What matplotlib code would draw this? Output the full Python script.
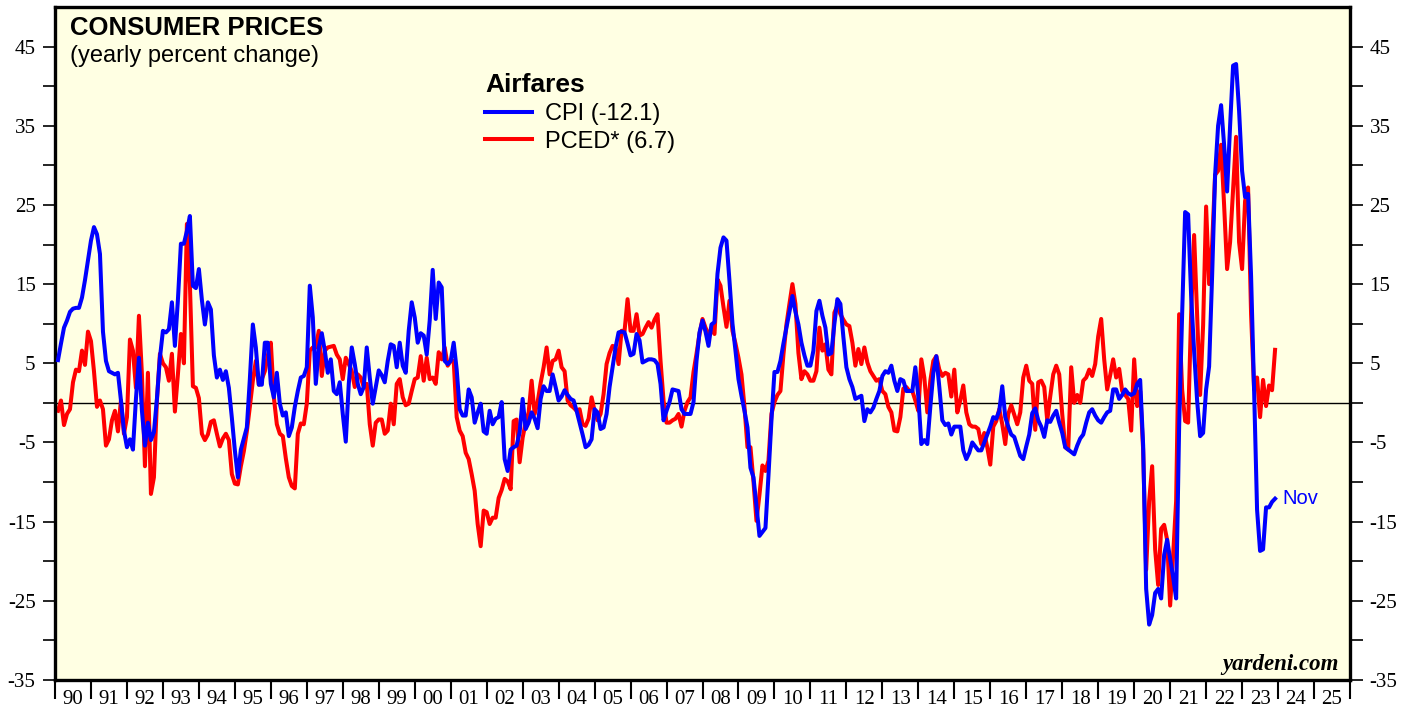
import numpy as np
import matplotlib
matplotlib.use("Agg")
import matplotlib.pyplot as plt
from matplotlib.ticker import FixedLocator, FixedFormatter, NullFormatter


# Airfares, yearly percent change, monthly Jan 1990 .. Nov 2023
# (one row per year)
cpi_airfares = [
    5.4, 7.5, 9.5, 10.4, 11.5, 11.9, 12.0, 12.0, 13.3, 15.5, 18.0, 20.5,          # 1990
    22.2, 21.3, 18.8, 9.0, 5.3, 4.0, 3.8, 3.6, 3.8, 0.3, -3.5, -5.6,               # 1991
    -4.6, -5.9, 0.5, 5.7, -1.0, -5.4, -2.5, -4.7, -3.7, 0.5, 5.7, 9.1,             # 1992
    8.9, 9.3, 12.7, 7.2, 13.0, 20.1, 20.1, 21.7, 23.6, 14.8, 14.5, 16.9,           # 1993
    13.0, 9.9, 12.7, 11.8, 6.0, 3.2, 4.2, 2.9, 4.0, 1.9, -1.9, -6.0,               # 1994
    -9.4, -5.9, -4.5, -3.1, 3.0, 9.9, 7.0, 2.3, 2.3, 7.6, 7.6, 2.4,                # 1995
    0.7, 3.8, -0.1, -1.6, -1.2, -4.2, -3.1, -0.5, 1.5, 3.2, 3.4, 4.5,              # 1996
    14.8, 10.8, 2.4, 7.0, 8.8, 6.6, 3.8, 5.5, 1.5, 1.1, 2.6, -1.4,                 # 1997
    -4.9, 2.4, 7.0, 4.9, 2.4, 1.1, 2.0, 7.0, 3.2, -0.1, 2.0, 4.1,                  # 1998
    3.5, 2.6, 5.3, 7.4, 7.2, 4.5, 7.6, 4.7, 3.8, 9.1, 12.7, 10.8,                  # 1999
    7.6, 8.8, 8.5, 6.1, 10.4, 16.8, 10.6, 15.2, 14.6, 5.3, 4.9, 5.3,               # 2000
    7.6, 4.2, -0.8, -1.6, -1.6, 1.7, 0.7, -2.5, -1.2, -0.1, -3.6, -3.9,            # 2001
    -1.0, -2.7, -2.0, -1.8, 0.1, -7.1, -8.6, -5.9, -5.6, -5.4, -3.7, 0.5,          # 2002
    -3.3, -2.5, -1.2, -2.0, -3.2, 0.5, 2.1, 1.5, 1.5, 3.6, 2.0, 0.3,               # 2003
    0.8, 1.6, 1.0, 0.5, 0.3, -1.0, -2.5, -4.0, -5.6, -5.3, -4.6, -0.8,             # 2004
    -1.2, -3.3, -3.1, -1.4, 2.0, 4.5, 7.0, 8.9, 9.0, 8.9, 7.5, 6.0,                # 2005
    6.2, 8.7, 7.9, 5.1, 5.3, 5.5, 5.5, 5.4, 4.9, 2.4, -2.2, -1.0,                  # 2006
    0.1, 1.7, 1.6, 1.5, -0.8, -1.4, -1.4, -1.4, 0.1, 5.3, 8.9, 10.4,               # 2007
    9.0, 7.2, 9.9, 10.2, 16.3, 19.6, 20.9, 20.5, 15.4, 10.0, 6.6, 3.0,             # 2008
    0.9, -1.0, -3.1, -8.2, -9.4, -13.0, -16.8, -16.3, -15.8, -9.2, -2.2, 3.9,      # 2009
    3.9, 5.3, 7.5, 9.5, 11.5, 13.5, 11.5, 9.9, 7.6, 6.0, 4.7, 4.7,                 # 2010
    6.6, 11.6, 12.9, 11.0, 9.5, 6.1, 6.3, 10.0, 13.1, 12.5, 8.3, 4.5,              # 2011
    3.0, 2.0, 0.5, 0.7, 0.9, -2.3, -0.8, -1.2, -0.6, 0.5, 1.5, 3.4,                # 2012
    4.0, 3.8, 4.7, 2.8, 1.5, 3.0, 2.8, 1.5, 1.5, 1.5, 4.5, 0.8,                    # 2013
    -5.2, -4.7, -5.2, -0.5, 3.8, 5.9, 2.0, -2.2, -2.8, -2.6, -4.0, -3.0,           # 2014
    -3.0, -3.0, -6.0, -7.1, -6.3, -5.0, -5.5, -6.0, -6.0, -5.0, -4.0, -3.0,        # 2015
    -1.8, -2.0, -1.0, 2.1, -1.8, -3.0, -4.0, -4.3, -5.5, -6.7, -7.1, -5.5,         # 2016
    -4.0, -1.3, -0.7, -2.2, -3.0, -4.3, -2.2, -2.4, -1.6, -1.0, -2.5, -3.8,        # 2017
    -5.6, -5.9, -6.2, -6.5, -5.4, -4.5, -4.0, -2.5, -1.2, -0.8, -1.6, -2.2,        # 2018
    -2.5, -1.8, -1.2, -1.0, 1.7, 1.7, 0.5, 1.0, 1.7, 1.2, 1.0, 1.2,                # 2019
    2.4, 2.9, -5.4, -23.5, -28.0, -26.8, -24.0, -23.5, -24.7, -19.2, -17.3, -19.7, # 2020
    -22.0, -24.7, -3.0, 11.2, 24.1, 23.8, 13.6, 6.5, 0.3, -4.2, -3.8, 1.7,         # 2021
    4.6, 16.0, 28.8, 35.0, 37.6, 32.6, 26.7, 35.0, 42.6, 42.8, 36.9, 29.3,         # 2022
    26.0, 26.4, 16.0, 1.7, -13.5, -18.7, -18.5, -13.2, -13.2, -12.5, -12.1,        # 2023
]

pced_airfares = [
    -1.0, 0.3, -2.8, -1.4, -0.8, 2.6, 4.2, 4.0, 6.6, 4.8, 9.0, 7.8,               # 1990
    4.0, -0.5, 0.3, -0.8, -5.4, -4.6, -2.2, -1.0, -3.6, 0.3, -3.9, -1.8,           # 1991
    8.0, 6.6, 1.9, 11.0, 3.6, -8.0, 3.8, -11.5, -9.4, 0.3, 6.2, 5.0,               # 1992
    4.5, 2.8, 6.2, -1.1, 3.6, 8.7, 5.0, 22.6, 15.0, 2.1, 1.9, 0.6,                 # 1993
    -3.9, -4.7, -4.0, -2.4, -2.2, -3.9, -5.5, -4.5, -3.9, -4.7, -9.0, -10.2,       # 1994
    -10.3, -8.0, -6.1, -3.6, -0.5, 2.8, 5.3, 2.3, 3.0, 4.0, 6.0, 7.6,              # 1995
    0.7, -2.7, -3.9, -4.2, -7.0, -9.4, -10.5, -10.8, -3.9, -2.6, -2.7, -0.1,       # 1996
    6.6, 7.0, 7.0, 9.1, 3.4, 6.6, 7.0, 7.1, 7.2, 6.1, 5.5, 3.0,                    # 1997
    5.7, 4.9, 4.0, 2.0, 3.6, 3.2, 2.0, 2.4, -2.7, -5.4, -2.5, -2.1,                # 1998
    -2.1, -3.9, -3.5, -0.1, -2.7, 2.4, 3.0, 0.7, -0.3, -0.1, 1.5, 3.0,             # 1999
    3.2, 5.9, 2.8, 5.7, 3.0, 3.2, 2.4, 6.4, 5.5, 7.0, 4.7, 5.3,                    # 2000
    5.3, -1.8, -3.5, -4.2, -6.3, -7.1, -9.0, -11.1, -15.3, -18.1, -13.6, -13.8,    # 2001
    -15.3, -14.5, -14.5, -12.0, -11.0, -9.6, -9.9, -10.9, -2.3, -2.1, -7.5, -4.4,  # 2002
    -2.5, -1.2, 2.8, -1.4, 0.1, 2.5, 4.5, 7.0, 3.6, 5.3, 5.5, 6.6,                 # 2003
    4.5, 4.0, 0.3, -0.3, -0.6, -1.0, -0.8, -2.7, -2.9, -2.0, 0.7, -1.0,            # 2004
    -2.2, -1.4, 1.1, 4.9, 6.3, 7.2, 7.0, 4.9, 9.1, 9.1, 13.1, 9.1,                 # 2005
    9.1, 11.2, 8.5, 8.7, 9.5, 10.2, 9.5, 10.5, 11.2, 5.3, 0.3, -2.5,               # 2006
    -2.5, -2.2, -2.0, -1.4, -3.0, -1.0, 0.1, 0.7, 3.9, 6.2, 8.7, 10.6,             # 2007
    9.5, 8.7, 9.3, 8.7, 15.6, 14.8, 12.1, 9.6, 12.9, 9.1, 7.5, 5.7,                # 2008
    3.6, -0.5, -5.6, -5.6, -9.9, -14.9, -11.6, -7.9, -8.6, -7.3, -1.4, 0.1,        # 2009
    1.0, 1.5, 6.1, 9.9, 12.5, 15.0, 12.5, 6.3, 3.0, 4.0, 3.6, 2.8,                 # 2010
    2.8, 4.0, 9.5, 6.6, 7.4, 4.2, 3.6, 11.4, 12.3, 11.2, 10.5, 9.9,                # 2011
    9.7, 7.6, 4.7, 6.8, 4.9, 7.0, 5.1, 4.0, 3.4, 2.8, 3.0, 1.5,                    # 2012
    1.1, -0.5, -1.2, -3.5, -3.6, -1.8, 1.8, 2.0, 1.5, 1.5, 0.3, -1.0,              # 2013
    5.5, 3.2, -1.2, 2.8, 5.3, 5.9, 4.2, 3.4, 3.8, 3.6, 0.8, 4.2,                   # 2014
    -1.2, 0.3, 2.2, -1.2, -2.7, -3.0, -3.0, -3.3, -5.2, -3.8, -5.6, -7.8,          # 2015
    -3.0, -2.3, -0.8, -2.7, -5.2, -1.4, -0.3, -1.5, -2.7, -1.2, 3.2, 4.7,          # 2016
    2.8, 2.4, -3.4, 2.6, 2.8, 2.0, -2.2, 0.8, 3.6, 4.7, 3.6, -1.4,                 # 2017
    -5.6, -5.9, 4.5, 0.0, 1.0, 0.0, 2.8, 3.2, 4.2, 3.4, 4.9, 8.4,                  # 2018
    10.6, 5.5, 1.7, 3.5, 5.5, 3.2, 4.3, 1.5, 1.0, 0.5, -3.5, 5.5,                  # 2019
    -0.4, 1.5, -6.0, -21.1, -12.4, -8.0, -18.5, -23.0, -15.9, -15.4, -17.3, -25.6, # 2020
    -19.2, -12.4, 11.2, 1.7, -2.3, -2.5, 11.2, 21.2, 11.2, 1.0, 9.8, 24.8,         # 2021
    15.0, 20.0, 28.8, 29.3, 32.6, 25.0, 16.9, 20.3, 27.0, 33.6, 20.3, 16.9,        # 2022
    25.5, 27.2, 11.2, 1.7, 3.2, -1.8, 2.9, -0.4, 2.2, 1.6, 6.7,                    # 2023
]

first_year = 1990
last_year = 2026
series_labels = ["CPI (-12.1)", "PCED* (6.7)"]
year_labels = ["%02d" % (y % 100) for y in range(first_year, last_year)]

BLUE = "#0000ff"
RED = "#ff0000"
SANS = "Liberation Sans"
SERIF = "Liberation Serif"

# chart uses a plain hyphen for negative numbers
plt.rcParams["axes.unicode_minus"] = False


def month_positions(values):
    # months plotted in decimal years, at the end of each month
    return first_year + (np.arange(len(values)) + 1) / 12.0


def plot_chart():
    fig = plt.figure(figsize=(14.16, 7.10), dpi=100)
    ax = fig.add_axes([55 / 1416, 30 / 710, 1295 / 1416, 673 / 710])
    ax.set_facecolor("#ffffe3")

    ax.set_xlim(first_year, last_year)
    ax.set_ylim(-35, 50)

    ax.axhline(0, color="black", lw=1.0, zorder=1)

    x_pced = month_positions(pced_airfares)
    x_cpi = month_positions(cpi_airfares)
    red_line, = ax.plot(x_pced, pced_airfares, color=RED, lw=2.9,
                        solid_joinstyle="round", zorder=2)
    blue_line, = ax.plot(x_cpi, cpi_airfares, color=BLUE, lw=2.9,
                         solid_joinstyle="round", zorder=3)

    # last month label
    ax.annotate("Nov", xy=(x_cpi[-1], cpi_airfares[-1]), xytext=(5, 0),
                textcoords="offset points", color=BLUE, fontsize=14.5,
                family=SANS, va="center", ha="left")

    # y axis on both sides, labels every 10 starting at -35
    ax.yaxis.set_major_locator(FixedLocator(np.arange(-35, 46, 10)))
    ax.yaxis.set_minor_locator(FixedLocator(np.arange(-30, 41, 10)))
    ax.tick_params(axis="y", which="both", direction="out", length=9,
                   width=1.2, left=True, right=True,
                   labelleft=True, labelright=True, pad=5,
                   labelsize=15, labelfontfamily=SERIF)

    # x axis: year boundaries as ticks, labels centred on the year
    ax.xaxis.set_major_locator(FixedLocator(np.arange(first_year, last_year + 1)))
    ax.xaxis.set_major_formatter(NullFormatter())
    ax.xaxis.set_minor_locator(FixedLocator(np.arange(first_year, last_year) + 0.5))
    ax.xaxis.set_minor_formatter(FixedFormatter(year_labels))
    ax.tick_params(axis="x", which="major", direction="out", length=14,
                   width=1.5, top=False)
    ax.tick_params(axis="x", which="minor", length=0, pad=7.5,
                   labelsize=15, labelfontfamily=SERIF, top=False)

    for side in ["left", "right", "top", "bottom"]:
        ax.spines[side].set_linewidth(2.4)

    # titles
    ax.text(0.0116, 0.9584, "CONSUMER PRICES", transform=ax.transAxes,
            fontsize=18.5, fontweight="bold", family=SANS, va="baseline")
    ax.text(0.0116, 0.9180, "(yearly percent change)", transform=ax.transAxes,
            fontsize=17, family=SANS, va="baseline")

    ax.legend([blue_line, red_line], series_labels, title="Airfares",
              loc="upper left", bbox_to_anchor=(0.332, 0.902),
              frameon=False, borderpad=0, borderaxespad=0,
              handlelength=2.0, handletextpad=0.55, labelspacing=0.25,
              alignment="left",
              prop={"family": SANS, "size": 17},
              title_fontproperties={"family": SANS, "weight": "bold",
                                    "size": 19})

    ax.text(0.9915, 0.0149, "yardeni.com", transform=ax.transAxes,
            fontsize=16.5, family=SERIF, fontweight="bold", fontstyle="italic",
            ha="right", va="baseline")

    fig.savefig("out.png", dpi=100, facecolor="white")


def main():
    plot_chart()


if __name__ == "__main__":
    main()
